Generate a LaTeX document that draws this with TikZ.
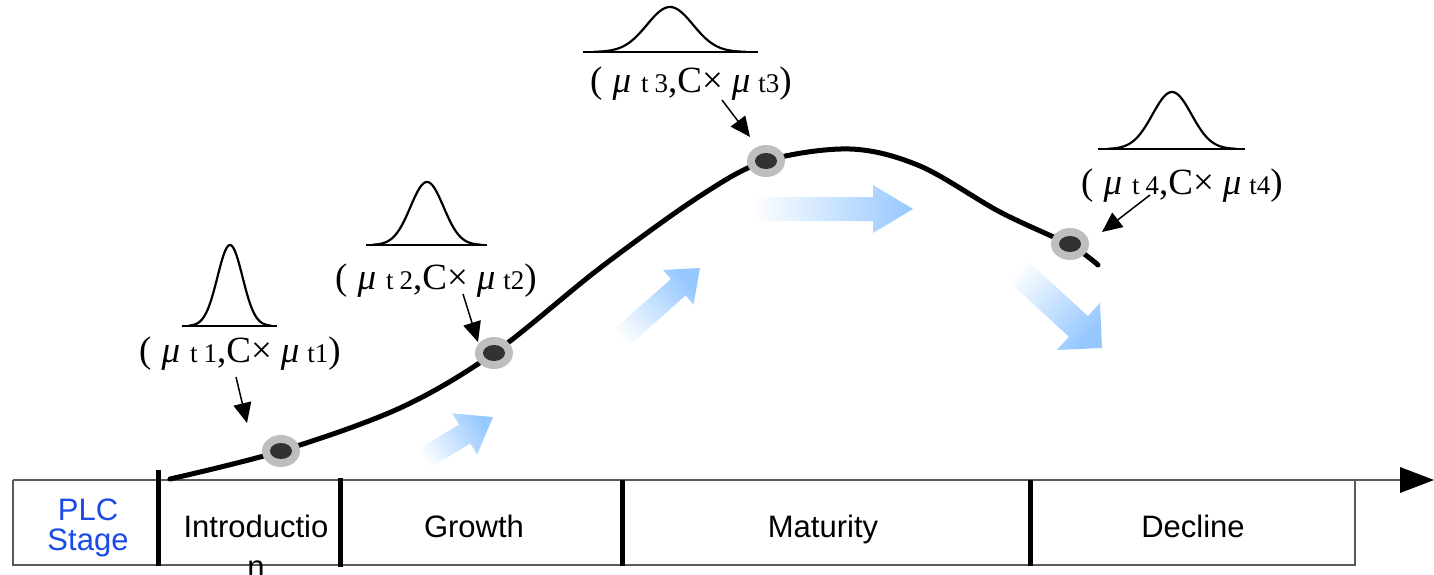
\documentclass[tikz,border=0pt]{standalone}
\usepackage{fontspec}
\setmainfont{Liberation Serif}
\setsansfont{Liberation Sans}
\usetikzlibrary{arrows.meta,shapes.geometric}
\definecolor{plcblue}{RGB}{25,75,230}
\definecolor{arrowblue}{RGB}{150,200,255}
\definecolor{ringgray}{RGB}{190,190,190}
\definecolor{dotdark}{RGB}{50,50,50}
\definecolor{boxline}{RGB}{90,90,90}
\newcommand\sublab[1]{{\fontsize{27}{27}\selectfont #1}}
\newcommand\mulab[2]{(\hspace{10pt}\textit{μ}\hspace{10pt}\sublab{t\hspace{6pt}#1},C×\hspace{9pt}\textit{μ}\hspace{8pt}\sublab{t#2})}
\newcommand\fadearrow[7]{% tip x, tip y, angle, total length, head length, head half width, shaft half width
  \begin{scope}[shift={(#1,#2)},rotate=#3]
    \shade[left color=white,right color=arrowblue,shading angle=#3+90]
      (0,0) -- (-#5,#6) -- (-#5,#7) -- (-#4,#7) -- (-#4,-#7) -- (-#5,-#7) -- (-#5,-#6) -- cycle;
  \end{scope}}
\begin{document}
\begin{tikzpicture}[x=1pt,y=-1pt,
  stagetext/.style={font=\fontsize{31}{30}\selectfont\sffamily, anchor=base, inner sep=0pt, align=center},
  mulabel/.style={font=\fontsize{37}{40}\selectfont, anchor=base, inner sep=0pt},
  ring/.style={ellipse, fill=ringgray, minimum width=38pt, minimum height=32pt, inner sep=0pt},
  ptr/.style={line width=1.5pt, -{Triangle[length=20pt,width=18pt]}},
  bell/.style={line width=2.2pt},
  sep/.style={line width=5pt},
  frame/.style={boxline, line width=2pt}]
\useasboundingbox (0,0) rectangle (1434,575);
\fill[white] (0,0) rectangle (1434,575);

% fading blue trend arrows
\fadearrow{493}{417}{31}{85}{33}{24}{11}
\fadearrow{700}{268}{41.5}{113}{29}{23}{11}
\fadearrow{913}{209}{0}{161}{40}{24}{12}
\fadearrow{1102}{348}{-42.5}{123}{32}{32}{14}

% bottom stage bar
\draw[frame] (13,480) -- (13,565) -- (1355,565) -- (1355,480);
\draw[frame] (13,480) -- (1404,480);
\fill (1400,467) -- (1434,480) -- (1400,493) -- cycle;
\draw[sep] (158,470) -- (158,566);
\draw[sep] (340,478) -- (340,567);
\draw[sep] (622,480) -- (622,566);
\draw[sep] (1030,480) -- (1030,566);

\node[stagetext, text=plcblue] (plc) at (88,550) {PLC\\Stage};
\node[stagetext, font=\fontsize{31}{40}\selectfont\sffamily] (intro) at (256,577) {Introductio\\n};
\node[stagetext] (growth) at (474,537) {Growth};
\node[stagetext] (maturity) at (823,537) {Maturity};
\node[stagetext] (decline) at (1193,537) {Decline};

% life cycle curve
\draw[line width=5pt, line cap=round] plot[smooth, tension=0.55] coordinates {(170,479) (281,451) (400,408) (494,353) (600,268) (700,196) (766,161) (850,149) (920,166) (1000,212) (1070,245) (1098,265)};

% points on the curve
\node[ring] (p1) at (281,451) {};
\node[ring] (p2) at (494,353) {};
\node[ring] (p3) at (766,161) {};
\node[ring] (p4) at (1070,244) {};
\foreach \p in {p1,p2,p3,p4} \fill[dotdark] (\p) ellipse (11 and 8);

% distributions
\draw[bell] plot[domain=-3.3:3.3, samples=80, smooth] ({230+12.5*\x},{326-81*exp(-\x*\x/2)});
\draw[bell] (182,326) -- (277,326);
\draw[bell] plot[domain=-3.3:3.3, samples=80, smooth] ({427+16.5*\x},{245-63*exp(-\x*\x/2)});
\draw[bell] (366,245) -- (487,245);
\draw[bell] plot[domain=-3.3:3.3, samples=80, smooth] ({670+23*\x},{52-45*exp(-\x*\x/2)});
\draw[bell] (583,52) -- (758,52);
\draw[bell] plot[domain=-3.3:3.3, samples=80, smooth] ({1172+19.5*\x},{149-57*exp(-\x*\x/2)});
\draw[bell] (1098,149) -- (1245,149);

% labels
\node[mulabel] (l1) at (240,362) {\mulab{1}{1}};
\node[mulabel] (l2) at (436,289) {\mulab{2}{2}};
\node[mulabel] (l3) at (691,93) {\mulab{3}{3}};
\node[mulabel] (l4) at (1182,194) {\mulab{4}{4}};

% pointers
\coordinate (s1) at (236,377); \coordinate (e1) at (247,423);
\coordinate (s2) at (463,294); \coordinate (e2) at (478,342);
\coordinate (s3) at (722,100); \coordinate (e3) at (750,137);
\coordinate (s4) at (1150,195); \coordinate (e4) at (1102,232);
\draw[ptr] (s1) -- (e1);
\draw[ptr] (s2) -- (e2);
\draw[ptr] (s3) -- (e3);
\draw[ptr] (s4) -- (e4);
\end{tikzpicture}
\end{document}
